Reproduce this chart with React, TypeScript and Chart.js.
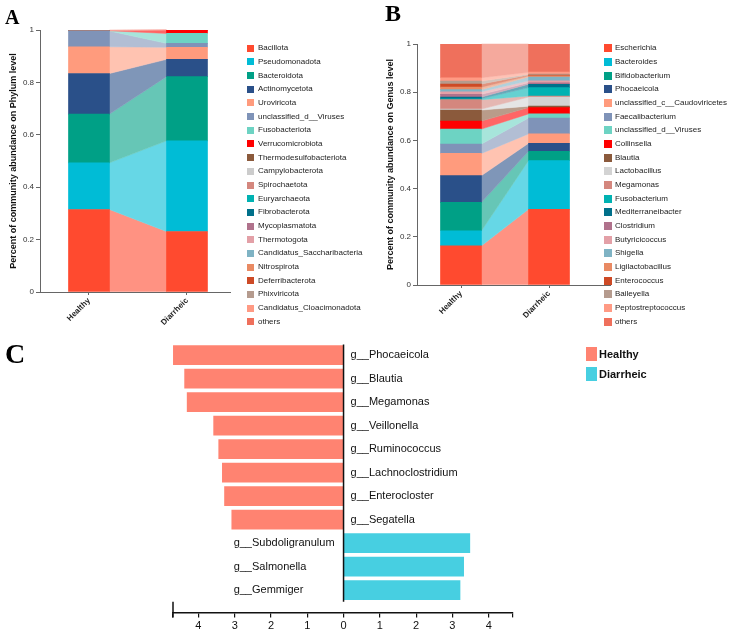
import React, { useEffect, useRef } from 'react';
import { Chart, registerables } from 'chart.js';

Chart.register(...registerables);
Chart.defaults.font.family = '"Liberation Sans", Arial, sans-serif';

// ---------- DATA ----------
const groups = ['Healthy', 'Diarrheic'];

const phylumNames = [
  'Bacillota', 'Pseudomonadota', 'Bacteroidota', 'Actinomycetota', 'Uroviricota',
  'unclassified_d__Viruses', 'Fusobacteriota', 'Verrucomicrobiota', 'Thermodesulfobacteriota',
  'Campylobacterota', 'Spirochaetota', 'Euryarchaeota', 'Fibrobacterota', 'Mycoplasmatota',
  'Thermotogota', 'Candidatus_Saccharibacteria', 'Nitrospirota', 'Deferribacterota',
  'Phixviricota', 'Candidatus_Cloacimonadota', 'others',
];
const phylumHealthy = [0.315, 0.178, 0.186, 0.155, 0.102, 0.060, 0.001, 0.001, 0, 0, 0, 0, 0, 0, 0, 0, 0, 0, 0, 0, 0.002];
const phylumDiarrheic = [0.231, 0.346, 0.245, 0.066, 0.046, 0.015, 0.038, 0.013, 0, 0, 0, 0, 0, 0, 0, 0, 0, 0, 0, 0, 0];
const phylumColors = [
  '#ff4a2f', '#00bcd6', '#00a086', '#2a5089', '#ff9b7d', '#7f93b8', '#6dd3c3', '#ff0000',
  '#8b5a3c', '#cccccc', '#d4877e', '#00b2b2', '#00708a', '#b0728c', '#e3a0a7', '#7fb3c4',
  '#e98a63', '#cd4a26', '#b59b8e', '#ff9a84', '#ef705c',
];

const genusNames = [
  'Escherichia', 'Bacteroides', 'Bifidobacterium', 'Phocaeicola', 'unclassified_c__Caudoviricetes',
  'Faecalibacterium', 'unclassified_d__Viruses', 'Collinsella', 'Blautia', 'Lactobacillus',
  'Megamonas', 'Fusobacterium', 'Mediterraneibacter', 'Clostridium', 'Butyricicoccus', 'Shigella',
  'Ligilactobacillus', 'Enterococcus', 'Baileyella', 'Peptostreptococcus', 'others',
];
const genusHealthy = [0.163, 0.062, 0.118, 0.111, 0.092, 0.039, 0.062, 0.033, 0.046, 0.004, 0.039, 0.004, 0.007, 0.011, 0.011, 0.009, 0.010, 0.013, 0.012, 0.014, 0.140];
const genusDiarrheic = [0.314, 0.202, 0.039, 0.033, 0.039, 0.066, 0.017, 0.026, 0.006, 0.038, 0.004, 0.035, 0.014, 0.006, 0.008, 0.016, 0.005, 0.003, 0.004, 0.008, 0.117];
const genusColors = [
  '#ff4a2f', '#00bcd6', '#00a086', '#2a5089', '#ff9b7d', '#7f93b8', '#6dd3c3', '#ff0000',
  '#8b5a3c', '#d3d3d3', '#d4877e', '#00b2b2', '#00708a', '#b0728c', '#e3a0a7', '#7fb3c4',
  '#e98a63', '#cd4a26', '#b59b8e', '#ff9a84', '#ef705c',
];

const ldaGenera = [
  'g__Phocaeicola', 'g__Blautia', 'g__Megamonas', 'g__Veillonella', 'g__Ruminococcus',
  'g__Lachnoclostridium', 'g__Enterocloster', 'g__Segatella', 'g__Subdoligranulum',
  'g__Salmonella', 'g__Gemmiger',
];
const ldaScores = [-4.69, -4.38, -4.31, -3.58, -3.44, -3.34, -3.28, -3.08, 3.48, 3.31, 3.21];
const ldaGroupOf = ['Healthy', 'Healthy', 'Healthy', 'Healthy', 'Healthy', 'Healthy', 'Healthy', 'Healthy', 'Diarrheic', 'Diarrheic', 'Diarrheic'];
const ldaGroupNames = ['Healthy', 'Diarrheic'];
const ldaGroupColors = ['#ff8371', '#47cfe1'];
const ldaTicks = [-4, -3, -2, -1, 0, 1, 2, 3, 4];

// ---------- HELPERS ----------
function lighten(hex: string, a = 0.6) {
  const n = parseInt(hex.slice(1), 16);
  const r = (n >> 16) & 255, g = (n >> 8) & 255, b = n & 255;
  const f = (c: number) => Math.round(c * a + 255 * (1 - a));
  return `rgb(${f(r)},${f(g)},${f(b)})`;
}

const alluvialPlugin = {
  id: 'alluvial',
  beforeDatasetsDraw(chart: any) {
    const ctx = chart.ctx;
    chart.data.datasets.forEach((ds: any, i: number) => {
      const meta = chart.getDatasetMeta(i);
      const h = meta.data[0] as any;
      const d = meta.data[1] as any;
      if (!h || !d) return;
      if (Math.abs(h.base - h.y) < 0.01 && Math.abs(d.base - d.y) < 0.01) return;
      const x1 = h.x + h.width / 2;
      const x2 = d.x - d.width / 2;
      ctx.save();
      ctx.fillStyle = ds.linkColor;
      ctx.strokeStyle = ds.linkColor;
      ctx.lineWidth = 0.5;
      ctx.beginPath();
      ctx.moveTo(x1, h.y);
      ctx.lineTo(x2, d.y);
      ctx.lineTo(x2, d.base);
      ctx.lineTo(x1, h.base);
      ctx.closePath();
      ctx.fill();
      ctx.stroke();
      ctx.restore();
    });
  },
};

function makeStack(
  canvas: HTMLCanvasElement,
  names: string[], h: number[], d: number[], colors: string[],
  title: string, padTop: number, padRight: number, xMax: number, xHeight: number,
) {
  return new Chart(canvas, {
    type: 'bar',
    data: {
      datasets: names.map((n, i) => ({
        label: n,
        data: [{ x: 0, y: h[i] }, { x: 1, y: d[i] }],
        backgroundColor: colors[i],
        linkColor: lighten(colors[i]),
        barThickness: 41,
        borderWidth: 0,
      })) as any,
    },
    options: {
      animation: false,
      responsive: false,
      maintainAspectRatio: false,
      devicePixelRatio: 1,
      layout: { padding: { top: padTop, right: padRight, left: 0, bottom: 0 } },
      plugins: { legend: { display: false }, tooltip: { enabled: false } },
      scales: {
        x: {
          type: 'linear',
          stacked: true,
          min: -0.5,
          max: xMax,
          offset: false,
          afterBuildTicks: (ax: any) => { ax.ticks = [{ value: 0 }, { value: 1 }]; },
          afterFit: (sc: any) => { sc.height = xHeight; },
          ticks: {
            callback: (v: any) => groups[v] ?? '',
            minRotation: 45, maxRotation: 45, autoSkip: false,
            font: { size: 8, weight: 'bold' }, color: '#222', padding: 1,
          },
          grid: { display: true, drawOnChartArea: false, drawTicks: true, tickLength: 3, color: '#666', offset: false },
          border: { display: true, color: '#666', width: 1 },
        },
        y: {
          stacked: true,
          min: 0,
          max: 1,
          afterFit: (sc: any) => { sc.width = 40; },
          ticks: {
            stepSize: 0.2,
            callback: (v: any) => String(Math.round(Number(v) * 10) / 10),
            font: { size: 8 }, color: '#333', padding: 2,
          },
          grid: { display: true, drawOnChartArea: false, drawTicks: true, tickLength: 4, color: '#666' },
          border: { display: true, color: '#666', width: 1 },
          title: {
            display: true, text: title,
            font: { size: 9, weight: 'bold' }, color: '#111',
            padding: { top: 8.5, bottom: 0 },
          },
        },
      },
    } as any,
    plugins: [alluvialPlugin],
  });
}

const ldaPlugin = {
  id: 'ldaDecor',
  afterDatasetsDraw(chart: any) {
    const ctx = chart.ctx;
    const xs = chart.scales.x;
    const ys = chart.scales.y;
    const x0 = xs.getPixelForValue(0);
    ctx.save();
    // zero line
    ctx.strokeStyle = '#111';
    ctx.lineWidth = 1.5;
    ctx.beginPath();
    ctx.moveTo(x0, ys.getPixelForValue(-0.45));
    ctx.lineTo(x0, ys.getPixelForValue(10.5));
    ctx.stroke();
    // left stub
    ctx.beginPath();
    ctx.moveTo(xs.left, ys.getPixelForValue(10.5));
    ctx.lineTo(xs.left, xs.top + 5);
    ctx.stroke();
    // labels
    ctx.font = '11px "Liberation Sans", Arial, sans-serif';
    ctx.fillStyle = '#111';
    ctx.textBaseline = 'middle';
    ctx.textAlign = 'left';
    let maxW = 0;
    ldaGenera.forEach((g, i) => {
      if (ldaScores[i] > 0) maxW = Math.max(maxW, ctx.measureText(g).width);
    });
    ldaGenera.forEach((g, i) => {
      const y = ys.getPixelForValue(i);
      const x = ldaScores[i] < 0 ? x0 + 7 : x0 - 9 - maxW;
      ctx.fillText(g, x, y);
    });
    ctx.restore();
  },
};

function makeLda(canvas: HTMLCanvasElement) {
  return new Chart(canvas, {
    type: 'bar',
    data: {
      datasets: ldaGroupNames.map((g, gi) => ({
        label: g,
        data: ldaGenera
          .map((_, i) => (ldaGroupOf[i] === g ? { x: ldaScores[i], y: i } : null))
          .filter(Boolean),
        backgroundColor: ldaGroupColors[gi],
        barThickness: 19,
        borderWidth: 0,
      })) as any,
    },
    options: {
      indexAxis: 'y',
      animation: false,
      responsive: false,
      maintainAspectRatio: false,
      devicePixelRatio: 1,
      layout: { padding: { top: 13.4, left: 173, right: 219, bottom: 0 } },
      plugins: { legend: { display: false }, tooltip: { enabled: false } },
      scales: {
        x: {
          type: 'linear',
          stacked: true,
          min: -4.7,
          max: 4.67,
          offset: false,
          afterBuildTicks: (ax: any) => { ax.ticks = [-4.7, ...ldaTicks, 4.67].map((v) => ({ value: v })); },
          afterFit: (sc: any) => { sc.height = 22.6; },
          ticks: {
            callback: (v: any) => (Number.isInteger(v) ? String(Math.abs(v)) : ''),
            autoSkip: false, maxRotation: 0, font: { size: 11 }, color: '#111', padding: 2,
          },
          grid: { display: true, drawOnChartArea: false, drawTicks: true, tickLength: 5, color: '#111', lineWidth: 1.2 },
          border: { display: true, color: '#111', width: 1.5 },
        },
        y: {
          type: 'linear',
          stacked: true,
          reverse: true,
          offset: false,
          grace: 0,
          min: -0.5,
          max: 10.95,
          display: false,
          grid: { offset: false },
        },
      },
    } as any,
    plugins: [ldaPlugin],
  });
}

// ---------- COMPONENTS ----------
function Legend({ names, colors, left, top, boxSize }: { names: string[]; colors: string[]; left: number; top: number; boxSize: number }) {
  const pitch = 13.67;
  return (
    <>
      {names.map((n, i) => (
        <React.Fragment key={n}>
          <div style={{ position: 'absolute', left, top: top + i * pitch - boxSize / 2, width: boxSize, height: boxSize, background: colors[i] }} />
          <div style={{ position: 'absolute', left: left + 11, top: top + i * pitch - 6, fontSize: 8, lineHeight: '12px', color: '#222', whiteSpace: 'nowrap' }}>{n}</div>
        </React.Fragment>
      ))}
    </>
  );
}

export default function App() {
  const refA = useRef<HTMLCanvasElement>(null);
  const refB = useRef<HTMLCanvasElement>(null);
  const refC = useRef<HTMLCanvasElement>(null);

  useEffect(() => {
    const a = makeStack(refA.current!, phylumNames, phylumHealthy, phylumDiarrheic, phylumColors,
      'Percent of community abundance on Phylum level', 30, 10, 1.439, 48);
    const b = makeStack(refB.current!, genusNames, genusHealthy, genusDiarrheic, genusColors,
      'Percent of community abundance on Genus level', 44, 7, 1.693, 55);
    const c = makeLda(refC.current!);
    return () => { a.destroy(); b.destroy(); c.destroy(); };
  }, []);

  const serif = '"Liberation Serif", "Times New Roman", serif';

  return (
    <div style={{ position: 'absolute', left: 0, top: 0, width: 732, height: 635, background: '#fff', overflow: 'hidden', fontFamily: '"Liberation Sans", Arial, sans-serif' }}>
      <canvas ref={refA} width={240} height={340} style={{ position: 'absolute', left: 0, top: 0, width: 240, height: 340 }} />
      <canvas ref={refB} width={240} height={340} style={{ position: 'absolute', left: 377, top: 0, width: 240, height: 340 }} />
      <canvas ref={refC} width={732} height={305} style={{ position: 'absolute', left: 0, top: 330, width: 732, height: 305 }} />

      <div style={{ position: 'absolute', left: 5, top: 6.5, fontFamily: serif, fontWeight: 'bold', fontSize: 20, lineHeight: '20px' }}>A</div>
      <div style={{ position: 'absolute', left: 385, top: 1, fontFamily: serif, fontWeight: 'bold', fontSize: 24, lineHeight: '24px' }}>B</div>
      <div style={{ position: 'absolute', left: 5, top: 340, fontFamily: serif, fontWeight: 'bold', fontSize: 28, lineHeight: '28px' }}>C</div>

      <Legend names={phylumNames} colors={phylumColors} left={247} top={48.3} boxSize={7} />
      <Legend names={genusNames} colors={genusColors} left={604} top={48.3} boxSize={8} />

      {ldaGroupNames.map((g, i) => (
        <React.Fragment key={g}>
          <div style={{ position: 'absolute', left: 586, top: 347 + i * 19.5, width: 11, height: 14, background: ldaGroupColors[i] }} />
          <div style={{ position: 'absolute', left: 599, top: 347 + i * 19.5, fontSize: 11, fontWeight: 'bold', lineHeight: '14px', color: '#111' }}>{g}</div>
        </React.Fragment>
      ))}
    </div>
  );
}
